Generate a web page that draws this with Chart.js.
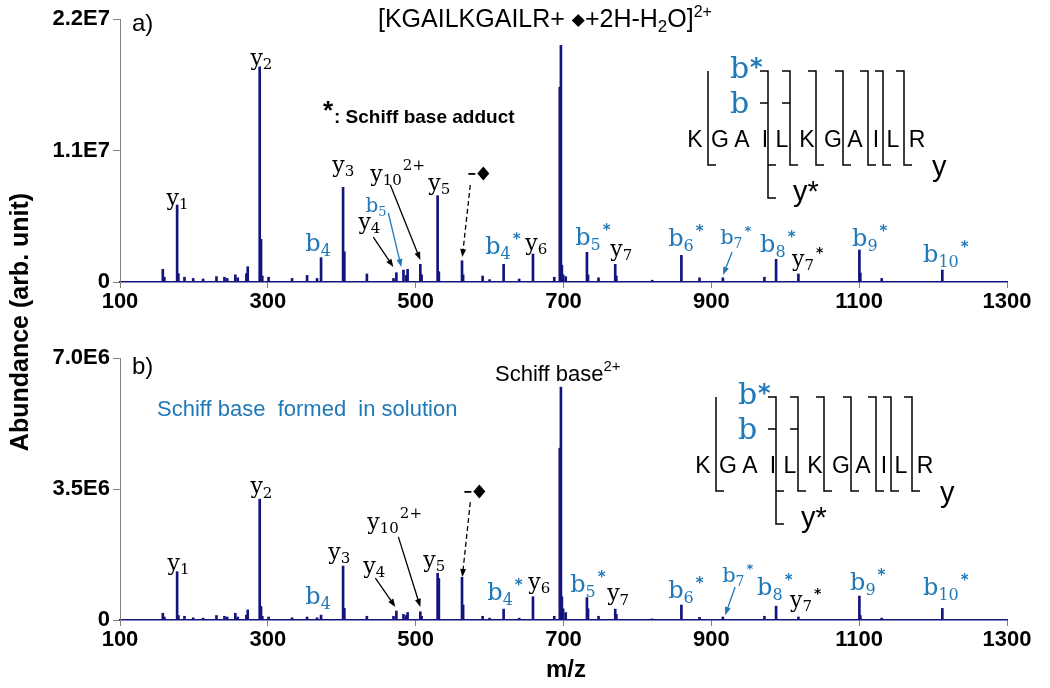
<!DOCTYPE html>
<html>
<head>
<meta charset="utf-8">
<script src="https://cdn.jsdelivr.net/npm/chart.js@4.4.0/dist/chart.umd.min.js"></script>
<style>
  html, body { margin: 0; padding: 0; background: #fff; }
  #wrap { position: relative; width: 1050px; height: 688px; }
  #wrap canvas { position: absolute; left: 0; top: 0; }
</style>
</head>
<body>
<div id="wrap">
  <canvas id="chartA" width="1050" height="688"></canvas>
  <canvas id="chartB" width="1050" height="688"></canvas>
</div>
<script>
// peak positions (m/z) shared by both spectra
var mz = [157.9, 160, 177.3, 179, 187.2, 199, 212.5, 230.5, 241.3, 245, 256, 259.3, 271, 272.8,
          289, 290.8, 292.5, 301, 332.8, 353.1, 366.6, 372, 401.8, 403.5, 434, 470, 473.9, 483.5,
          487.4, 489.1, 506.3, 508, 529.7, 531.4, 562.7, 564.2, 590.6, 600, 619, 640, 658.7, 687.5,
          695, 696.5, 697.8, 699.5, 703, 731.7, 733.2, 747.4, 770, 771.5, 820, 859.5, 884, 915.6,
          971.8, 987.6, 1017.8, 1100.3, 1101.6, 1130.5, 1212.5]
// abundance, in millions
var abundanceA = [1.06, 0.4, 6.44, 0.7, 0.4, 0.3, 0.25, 0.45, 0.4, 0.3, 0.6, 0.35, 0.7, 1.28,
                  18.0, 3.57, 0.5, 0.4, 0.3, 0.55, 0.3, 2.03, 7.92, 2.53, 0.67, 0.3, 0.78, 1.0,
                  0.55, 1.06, 1.48, 0.6, 7.22, 0.86, 1.78, 0.6, 0.5, 0.2, 1.48, 0.25, 2.34, 0.4,
                  16.3, 19.8, 1.4, 0.6, 0.45, 2.48, 0.6, 0.35, 1.48, 0.5, 0.15, 2.23, 0.35, 0.35,
                  0.4, 1.9, 0.67, 2.68, 0.75, 0.3, 1.0]
var abundanceB = [0.18, 0.08, 1.29, 0.12, 0.1, 0.06, 0.05, 0.12, 0.1, 0.08, 0.18, 0.08, 0.13, 0.27,
                  3.23, 0.36, 0.1, 0.08, 0.06, 0.08, 0.06, 0.13, 1.44, 0.31, 0.1, 0.1, 0.24, 0.15,
                  0.12, 0.2, 0.22, 0.1, 1.25, 1.11, 1.14, 0.4, 0.1, 0.05, 0.29, 0.05, 0.62, 0.1,
                  4.59, 6.22, 0.62, 0.3, 0.2, 0.6, 0.3, 0.1, 0.29, 0.15, 0.03, 0.4, 0.07, 0.08,
                  0.1, 0.37, 0.08, 0.64, 0.12, 0.05, 0.31]

var xTicks = [100, 300, 500, 700, 900, 1100, 1300]
var xLabels = ['100', '300', '500', '700', '900', '1100', '1300']
var yTicksA = [0, 11, 22]
var yLabelsA = ['0', '1.1E7', '2.2E7']
var yTicksB = [0, 3.5, 7]
var yLabelsB = ['0', '3.5E6', '7.0E6']

var NAVY = '#14147d'
var BLUE = '#1f78b8'
var GREY = '#808080'

// ion labels, placed in data units (m/z, millions)
var ionsA = [
    {t: 'y', sub: '1', mz: 162.9, v: 6.44},
    {t: 'y', sub: '2', mz: 276.4, v: 18.15},
    {t: 'y', sub: '3', mz: 387.3, v: 9.2},
    {t: 'y', sub: '10', sup: '2+', mz: 438.7, v: 8.45},
    {t: 'y', sub: '5', mz: 517.1, v: 7.7},
    {t: 'b', sub: '5', mz: 432, v: 5.86, size: 20},
    {t: 'y', sub: '4', mz: 422.5, v: 4.43},
    {t: 'b', sub: '4', mz: 350.7, v: 2.59},
    {t: 'b', sub: '4', sup: '*', mz: 594, v: 2.34},
    {t: 'y', sub: '6', mz: 648.3, v: 2.68},
    {t: 'b', sub: '5', sup: '*', mz: 715.9, v: 3.1},
    {t: 'y', sub: '7', mz: 763.2, v: 2.17},
    {t: 'b', sub: '6', sup: '*', mz: 841.6, v: 3.0},
    {t: 'b', sub: '7', sup: '*', mz: 911.9, v: 3.18, size: 21},
    {t: 'b', sub: '8', sup: '*', mz: 966, v: 2.5},
    {t: 'y', sub: '7', sup: '*', mz: 1009.2, v: 1.34},
    {t: 'b', sub: '9', sup: '*', mz: 1090.4, v: 3.0},
    {t: 'b', sub: '10', sup: '*', mz: 1186.4, v: 1.67}
]
var arrowsA = [
    {from: [442.7, 3.76], to: [469.8, 1.25]},
    {from: [463, 5.77], to: [480.6, 1.25], color: BLUE},
    {from: [465.7, 8.11], to: [506.3, 1.84]},
    {from: [573.9, 8.11], to: [563.1, 2.09], dash: true},
    {from: [928.1, 2.51], to: [915.9, 0.59], color: BLUE}
]
var ionsB = [
    {t: 'y', sub: '1', mz: 164.2, v: 1.34},
    {t: 'y', sub: '2', mz: 276.4, v: 3.39},
    {t: 'y', sub: '3', mz: 381.9, v: 1.63},
    {t: 'y', sub: '10', sup: '2+', mz: 434.6, v: 2.43},
    {t: 'y', sub: '4', mz: 429.2, v: 1.26},
    {t: 'y', sub: '5', mz: 510.4, v: 1.42},
    {t: 'b', sub: '4', mz: 350.7, v: 0.43},
    {t: 'b', sub: '4', sup: '*', mz: 596.9, v: 0.53},
    {t: 'y', sub: '6', mz: 652.3, v: 0.83},
    {t: 'b', sub: '5', sup: '*', mz: 709.1, v: 0.75},
    {t: 'y', sub: '7', mz: 759.1, v: 0.53},
    {t: 'b', sub: '6', sup: '*', mz: 841.6, v: 0.59},
    {t: 'b', sub: '7', sup: '*', mz: 914.6, v: 1.02, size: 21},
    {t: 'b', sub: '8', sup: '*', mz: 961.9, v: 0.67},
    {t: 'y', sub: '7', sup: '*', mz: 1006.5, v: 0.35},
    {t: 'b', sub: '9', sup: '*', mz: 1087.7, v: 0.8},
    {t: 'b', sub: '10', sup: '*', mz: 1186.4, v: 0.67}
]
var arrowsB = [
    {from: [445.5, 1.12], to: [472.5, 0.35]},
    {from: [476.6, 2.22], to: [506.3, 0.35]},
    {from: [573.9, 3.15], to: [563.1, 1.15], dash: true},
    {from: [932.2, 0.88], to: [918.7, 0.13], color: BLUE}
]
var lossA = {mz: 569.9, v: 8.53}
var lossB = {mz: 564.5, v: 3.26}

var seqLetters = 'KGAILKGAILR'.split('')
var seqDx = [0, 25, 47, 70, 87, 112, 138, 160, 181, 198, 222]
var cutDx = [73, 95, 121, 148, 173, 188, 209]

function drawIon(ctx, x, y, L) {
    var size = L.size || (L.t == 'b' ? 24 : 22)
    ctx.fillStyle = L.t == 'b' ? BLUE : '#000'
    ctx.font = size + 'px "DejaVu Serif"'
    ctx.fillText(L.t, x, y)
    var w = ctx.measureText(L.t).width
    var subW = 0
    if (L.sub) {
        ctx.font = Math.round(size * 0.66) + 'px "DejaVu Serif"'
        ctx.fillText(L.sub, x + w, y + size * 0.2)
        subW = ctx.measureText(L.sub).width
    }
    if (L.sup) {
        if (L.sup == '*') {
            ctx.font = 'bold ' + Math.round(size * 0.62) + 'px "DejaVu Sans"'
            ctx.fillText('*', x + w + subW + 2, y - size * 0.42)
        } else {
            ctx.font = Math.round(size * 0.7) + 'px "DejaVu Serif"'
            ctx.fillText(L.sup, x + w + subW + 1, y - size * 0.5)
        }
    }
}

function drawArrow(ctx, x1, y1, x2, y2, a) {
    var col = a.color || '#000'
    ctx.strokeStyle = col
    ctx.fillStyle = col
    ctx.lineWidth = 1.3
    ctx.setLineDash(a.dash ? [5, 3] : [])
    var ang = Math.atan2(y2 - y1, x2 - x1)
    var hl = 8
    ctx.beginPath()
    ctx.moveTo(x1, y1)
    ctx.lineTo(x2 - Math.cos(ang) * hl * 0.8, y2 - Math.sin(ang) * hl * 0.8)
    ctx.stroke()
    ctx.setLineDash([])
    ctx.beginPath()
    ctx.moveTo(x2, y2)
    ctx.lineTo(x2 - hl * Math.cos(ang) + 3 * Math.sin(ang), y2 - hl * Math.sin(ang) - 3 * Math.cos(ang))
    ctx.lineTo(x2 - hl * Math.cos(ang) - 3 * Math.sin(ang), y2 - hl * Math.sin(ang) + 3 * Math.cos(ang))
    ctx.closePath()
    ctx.fill()
}

function drawLoss(ctx, x, y) {
    ctx.fillStyle = '#000'
    ctx.fillRect(x + 1, y - 7, 7, 1.8)
    ctx.beginPath()
    ctx.moveTo(x + 10, y - 6.5)
    ctx.lineTo(x + 16, y - 13.5)
    ctx.lineTo(x + 22, y - 6.5)
    ctx.lineTo(x + 16, y + 0.5)
    ctx.closePath()
    ctx.fill()
}

function drawSeq(ctx, ox, oy) {
    ctx.fillStyle = '#000'
    ctx.font = '23px "Liberation Sans"'
    ctx.textAlign = 'center'
    seqLetters.forEach(function (c, i) { ctx.fillText(c, ox + seqDx[i], oy) })
    ctx.textAlign = 'left'
    ctx.strokeStyle = '#000'
    ctx.lineWidth = 1.5
    ctx.beginPath()
    ctx.moveTo(ox + 13, oy - 76); ctx.lineTo(ox + 13, oy + 18); ctx.lineTo(ox + 21, oy + 18)
    cutDx.forEach(function (d) {
        var c = ox + d
        ctx.moveTo(c - 8, oy - 76); ctx.lineTo(c, oy - 76); ctx.lineTo(c, oy + 18); ctx.lineTo(c + 8, oy + 18)
    })
    var c0 = ox + cutDx[0], c1 = ox + cutDx[1]
    ctx.moveTo(c0, oy + 18); ctx.lineTo(c0, oy + 51); ctx.lineTo(c0 + 8, oy + 51)
    ctx.moveTo(c0 - 8, oy - 44); ctx.lineTo(c0, oy - 44)
    ctx.moveTo(c1 - 8, oy - 44); ctx.lineTo(c1, oy - 44)
    ctx.stroke()
    ctx.fillStyle = BLUE
    ctx.font = '30px "DejaVu Serif"'
    ctx.fillText('b', ox + 35, oy - 69)
    ctx.fillText('b', ox + 35, oy - 34)
    ctx.font = 'bold 24px "DejaVu Sans"'
    ctx.fillText('*', ox + 55, oy - 72)
    ctx.fillStyle = '#000'
    ctx.font = '29px "Liberation Sans"'
    ctx.fillText('y', ox + 237, oy + 29)
    ctx.fillText('y*', ox + 98, oy + 54)
}

function extrasA(ctx) {
    ctx.fillStyle = '#000'
    ctx.font = '24px "Liberation Sans"'
    ctx.fillText('a)', 132, 31)
    // precursor label
    var x = 378, y = 27
    ctx.font = '25px "Liberation Sans"'
    ctx.fillText('[KGAILKGAILR+ ', x, y)
    x += ctx.measureText('[KGAILKGAILR+ ').width
    ctx.font = '17px "DejaVu Sans"'
    ctx.fillText('◆', x, y - 2)
    x += ctx.measureText('◆').width
    ctx.font = '25px "Liberation Sans"'
    ctx.fillText('+2H-H', x, y)
    x += ctx.measureText('+2H-H').width
    ctx.font = '17px "Liberation Sans"'
    ctx.fillText('2', x, y + 5)
    x += ctx.measureText('2').width
    ctx.font = '25px "Liberation Sans"'
    ctx.fillText('O]', x, y)
    x += ctx.measureText('O]').width
    ctx.font = '16px "Liberation Sans"'
    ctx.fillText('2+', x, y - 10)
    // legend for the star
    ctx.font = 'bold 26px "Liberation Sans"'
    ctx.fillText('*', 323, 119)
    ctx.font = 'bold 19px "Liberation Sans"'
    ctx.fillText(': Schiff base adduct', 334, 123)
    drawSeq(ctx, 695, 147)
    // shared y axis title
    ctx.save()
    ctx.translate(21, 322)
    ctx.rotate(-Math.PI / 2)
    ctx.textAlign = 'center'
    ctx.textBaseline = 'middle'
    ctx.font = 'bold 25px "Liberation Sans"'
    ctx.fillText('Abundance (arb. unit)', 0, 0)
    ctx.restore()
}

function extrasB(ctx) {
    ctx.fillStyle = '#000'
    ctx.font = '24px "Liberation Sans"'
    ctx.fillText('b)', 132, 374)
    ctx.fillStyle = BLUE
    ctx.font = '22px "Liberation Sans"'
    ctx.fillText('Schiff base  formed  in solution', 157, 416)
    ctx.fillStyle = '#000'
    ctx.font = '22px "Liberation Sans"'
    ctx.fillText('Schiff base', 495, 381)
    var w = ctx.measureText('Schiff base').width
    ctx.font = '15px "Liberation Sans"'
    ctx.fillText('2+', 495 + w, 371)
    drawSeq(ctx, 703, 473)
    ctx.textAlign = 'center'
    ctx.textBaseline = 'middle'
    ctx.font = 'bold 24px "Liberation Sans"'
    ctx.fillText('m/z', 566, 670)
}

function annotPlugin(ions, arrows, loss, extras) {
    return {
        id: 'annot',
        afterDatasetsDraw: function (chart) {
            var ctx = chart.ctx
            var xs = chart.scales.x, ys = chart.scales.y
            ctx.save()
            ctx.textAlign = 'left'
            ctx.textBaseline = 'alphabetic'
            ions.forEach(function (L) { drawIon(ctx, xs.getPixelForValue(L.mz), ys.getPixelForValue(L.v), L) })
            arrows.forEach(function (a) {
                drawArrow(ctx, xs.getPixelForValue(a.from[0]), ys.getPixelForValue(a.from[1]),
                          xs.getPixelForValue(a.to[0]), ys.getPixelForValue(a.to[1]), a)
            })
            drawLoss(ctx, xs.getPixelForValue(loss.mz), ys.getPixelForValue(loss.v))
            extras(ctx)
            ctx.restore()
        }
    }
}

function makeChart(id, values, yTicks, yLabels, padTop, padBottom, plugin) {
    var ctx = document.getElementById(id)
    return new Chart(ctx, {
        type: 'bar',
        data: {
            datasets: [{
                data: mz.map(function (m, i) { return {x: m, y: values[i]} }),
                backgroundColor: NAVY,
                borderWidth: 0,
                barThickness: 2,
                grouped: false
            }]
        },
        options: {
            responsive: false,
            animation: false,
            events: [],
            layout: {padding: {left: 0, right: 43, top: padTop, bottom: padBottom}},
            scales: {
                x: {
                    type: 'linear',
                    min: 100,
                    max: 1300,
                    offset: false,
                    afterBuildTicks: function (s) { s.ticks = xTicks.map(function (v) { return {value: v} }) },
                    afterFit: function (s) { s.height = 40 },
                    ticks: {
                        autoSkip: false,
                        maxRotation: 0,
                        padding: 1,
                        color: '#000',
                        font: {family: 'Liberation Sans', weight: 'bold', size: 22},
                        callback: function (v, i) { return xLabels[i] }
                    },
                    grid: {drawOnChartArea: false, offset: false, tickLength: 6, color: GREY},
                    border: {color: NAVY, width: 1.5}
                },
                y: {
                    min: yTicks[0],
                    max: yTicks[yTicks.length - 1],
                    afterBuildTicks: function (s) { s.ticks = yTicks.map(function (v) { return {value: v} }) },
                    afterFit: function (s) { s.width = 120 },
                    ticks: {
                        padding: 3,
                        color: '#000',
                        font: {family: 'Liberation Sans', weight: 'bold', size: 22},
                        callback: function (v, i) { return yLabels[i] }
                    },
                    grid: {drawOnChartArea: false, tickLength: 7, color: GREY},
                    border: {color: GREY, width: 1}
                }
            },
            plugins: {
                legend: {display: false},
                tooltip: {enabled: false}
            }
        },
        plugins: [plugin]
    })
}

makeChart('chartA', abundanceA, yTicksA, yLabelsA, 19, 366, annotPlugin(ionsA, arrowsA, lossA, extrasA))
makeChart('chartB', abundanceB, yTicksB, yLabelsB, 358, 28, annotPlugin(ionsB, arrowsB, lossB, extrasB))
</script>
</body>
</html>
